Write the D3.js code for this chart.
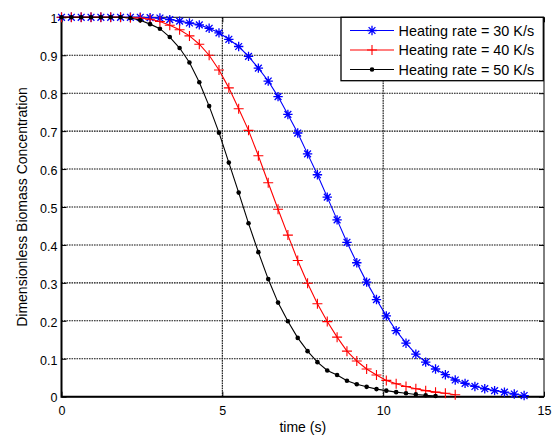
<!DOCTYPE html>
<html>
<head>
<meta charset="utf-8">
<script src="https://cdn.jsdelivr.net/npm/d3@7"></script>
<style>
  body { margin: 0; background: #fff; }
  svg { display: block; font-family: "Liberation Sans", Arial, Helvetica, sans-serif; }
</style>
</head>
<body>
<svg id="chart" width="553" height="437"></svg>
<script>
// Sampling instants shared by all three runs (s)
const timeS = [0, 0.306, 0.612, 0.918, 1.224, 1.53, 1.836, 2.142, 2.448, 2.754,
  3.06, 3.366, 3.672, 3.978, 4.284, 4.59, 4.896, 5.202, 5.508, 5.814,
  6.12, 6.426, 6.732, 7.038, 7.344, 7.65, 7.956, 8.262, 8.568, 8.874,
  9.18, 9.486, 9.792, 10.098, 10.404, 10.71, 11.016, 11.322, 11.628, 11.934,
  12.24, 12.546, 12.852, 13.158, 13.464, 13.77, 14.076, 14.382];

// Dimensionless biomass concentration for each heating rate
const rate30 = [1, 1, 1, 1, 1, 1, 1, 1, 1, 0.999,
  0.998, 0.994, 0.990, 0.985, 0.980, 0.971, 0.959, 0.942, 0.923, 0.897,
  0.866, 0.832, 0.791, 0.744, 0.695, 0.640, 0.585, 0.526, 0.466, 0.407,
  0.353, 0.302, 0.256, 0.213, 0.174, 0.141, 0.112, 0.091, 0.073, 0.058,
  0.044, 0.035, 0.027, 0.021, 0.016, 0.012, 0.007, 0.003];

const rate40 = [1, 1, 1, 1, 1, 1, 1, 0.999, 0.998, 0.995,
  0.989, 0.979, 0.967, 0.951, 0.929, 0.900, 0.861, 0.814, 0.759, 0.702,
  0.635, 0.564, 0.494, 0.426, 0.359, 0.299, 0.245, 0.198, 0.157, 0.120,
  0.094, 0.073, 0.057, 0.043, 0.034, 0.027, 0.021, 0.016, 0.012, 0.009,
  0.005];

const rate50 = [1, 1, 1, 1, 1, 1, 1, 0.998, 0.992, 0.982,
  0.970, 0.948, 0.919, 0.881, 0.829, 0.766, 0.696, 0.617, 0.538, 0.457,
  0.381, 0.310, 0.248, 0.199, 0.155, 0.120, 0.091, 0.069, 0.057, 0.042,
  0.033, 0.026, 0.020, 0.016, 0.012, 0.009, 0.006, 0.004, 0.002];

const seriesLabels = ["Heating rate = 30 K/s", "Heating rate = 40 K/s", "Heating rate = 50 K/s"];
const xTicks = [0, 5, 10, 15];
const yTicks = [0, 0.1, 0.2, 0.3, 0.4, 0.5, 0.6, 0.7, 0.8, 0.9, 1];
const xLabel = "time (s)";
const yLabel = "Dimensionless Biomass Concentration";

const series = [
  { values: rate30, color: "#0000ff", marker: "asterisk", label: seriesLabels[0] },
  { values: rate40, color: "#ff0000", marker: "plus", label: seriesLabels[1] },
  { values: rate50, color: "#000000", marker: "dot", label: seriesLabels[2] }
];

const svg = d3.select("#chart");
const plotLeft = 61.5, plotRight = 544, plotTop = 17.3, plotBottom = 396.7;

const x = d3.scaleLinear().domain([0, 15]).range([plotLeft, plotRight]);
const y = d3.scaleLinear().domain([0, 1]).range([plotBottom, plotTop]);

// Dotted grid
const grid = svg.append("g").attr("stroke", "#111").attr("stroke-width", 1.1)
  .attr("stroke-dasharray", "1.6,0.9").attr("fill", "none");
grid.selectAll("line.h").data(yTicks.filter(d => d > 0 && d < 1)).join("line")
  .attr("class", "h")
  .attr("x1", x(0)).attr("x2", x(15))
  .attr("y1", d => y(d)).attr("y2", d => y(d));
grid.selectAll("line.v").data(xTicks.filter(d => d > 0 && d < 15)).join("line")
  .attr("class", "v")
  .attr("y1", y(0)).attr("y2", y(1))
  .attr("x1", d => x(d)).attr("x2", d => x(d));

// Axes with inward ticks
const styleAxis = g => {
  g.select(".domain").remove();
  g.selectAll(".tick line").attr("stroke", "#000");
  g.selectAll(".tick text").attr("fill", "#000").attr("font-size", "12.5px")
    .attr("font-family", "Liberation Sans, Arial, sans-serif");
};

svg.append("g").attr("transform", `translate(0,${plotBottom})`)
  .call(d3.axisBottom(x).tickValues(xTicks).tickFormat(d => String(d)).tickSize(-5).tickPadding(9))
  .call(styleAxis);
svg.append("g").attr("transform", `translate(${plotLeft},0)`)
  .call(d3.axisLeft(y).tickValues(yTicks).tickFormat(d => String(d)).tickSize(-5).tickPadding(4))
  .call(styleAxis)
  .call(g => g.selectAll(".tick text").attr("dy", "0.42em"));
svg.append("g").attr("transform", `translate(0,${plotTop})`)
  .call(d3.axisTop(x).tickValues(xTicks).tickFormat("").tickSize(-5))
  .call(styleAxis);
svg.append("g").attr("transform", `translate(${plotRight},0)`)
  .call(d3.axisRight(y).tickValues(yTicks).tickFormat("").tickSize(-5))
  .call(styleAxis);

// Axes box
svg.append("rect").attr("x", plotLeft).attr("y", plotTop)
  .attr("width", plotRight - plotLeft).attr("height", plotBottom - plotTop)
  .attr("fill", "none").attr("stroke", "#000").attr("stroke-width", 1);
svg.append("path")
  .attr("d", `M${plotLeft},${plotTop}V${plotBottom}H${plotRight}`)
  .attr("fill", "none").attr("stroke", "#000").attr("stroke-width", 2);

// Marker shapes
function markerPath(kind) {
  if (kind === "asterisk") {
    const r = 4.7, q = 3.4;
    return `M${-r},0H${r}M0,${-r}V${r}M${-q},${-q}L${q},${q}M${-q},${q}L${q},${-q}`;
  }
  if (kind === "plus") {
    const r = 5;
    return `M${-r},0H${r}M0,${-r}V${r}`;
  }
  return null;
}
function drawMarker(sel, s) {
  if (s.marker === "dot") {
    sel.append("circle").attr("r", 2.3).attr("fill", s.color);
  } else {
    sel.append("path").attr("d", markerPath(s.marker))
      .attr("stroke", s.color).attr("stroke-width", s.marker === "asterisk" ? 1.3 : 1.1)
      .attr("fill", "none");
  }
}

const line = d3.line().x((d, i) => x(timeS[i])).y(d => y(d));

series.forEach(s => {
  const g = svg.append("g");
  g.append("path").datum(s.values).attr("d", line)
    .attr("fill", "none").attr("stroke", s.color).attr("stroke-width", 1.1);
  g.selectAll("g.mk").data(s.values).join("g").attr("class", "mk")
    .attr("transform", (d, i) => `translate(${x(timeS[i])},${y(d)})`)
    .each(function () { drawMarker(d3.select(this), s); });
});

// Axis titles
svg.append("text").attr("x", (plotLeft + plotRight) / 2).attr("y", 432)
  .attr("text-anchor", "middle").attr("font-size", "14px").attr("fill", "#000")
  .text(xLabel);
svg.append("text")
  .attr("transform", `translate(27,${(plotTop + plotBottom) / 2}) rotate(-90)`)
  .attr("text-anchor", "middle").attr("font-size", "14px").attr("fill", "#000")
  .text(yLabel);

// Legend
const lg = svg.append("g");
lg.append("rect").attr("x", 341).attr("y", plotTop).attr("width", plotRight - 0.7 - 341).attr("height", 63.4)
  .attr("fill", "#fff").attr("stroke", "#000").attr("stroke-width", 1.3);
series.forEach((s, i) => {
  const cy = 30.5 + i * 19.5;
  const row = lg.append("g");
  row.append("line").attr("x1", 350).attr("x2", 394).attr("y1", cy).attr("y2", cy)
    .attr("stroke", s.color).attr("stroke-width", 1.1);
  const m = row.append("g").attr("transform", `translate(372,${cy})`);
  drawMarker(m, s);
  row.append("text").attr("x", 398.5).attr("y", cy + 5.4)
    .attr("font-size", "14.4px").attr("fill", "#000").text(s.label);
});
</script>
</body>
</html>
